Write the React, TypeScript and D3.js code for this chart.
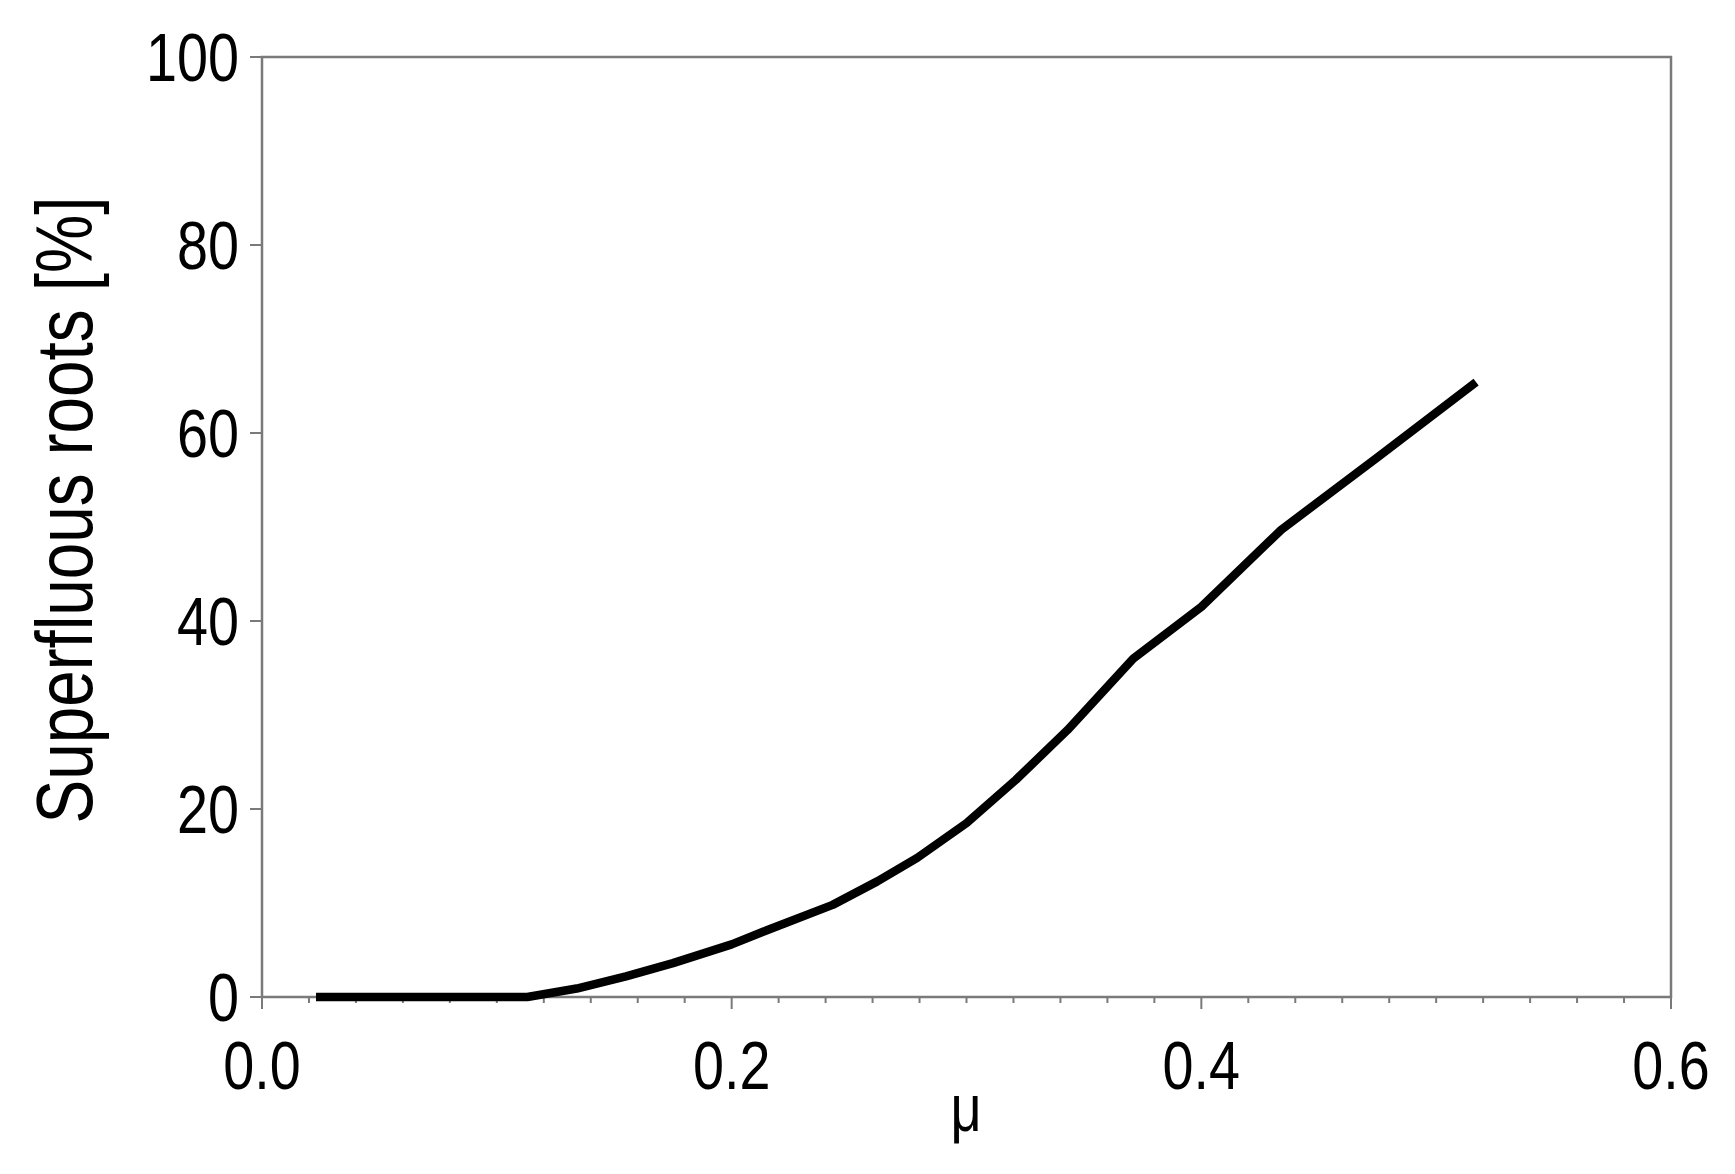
import React from "react";
import * as d3 from "d3";

const muValues = [0.023, 0.113, 0.134, 0.155, 0.175, 0.2, 0.215, 0.243, 0.262, 0.279, 0.3, 0.321, 0.343, 0.371, 0.4, 0.434, 0.475, 0.517];
const rootsValues = [0, 0, 0.9, 2.2, 3.6, 5.6, 7.1, 9.8, 12.3, 14.8, 18.5, 23.1, 28.4, 36.0, 41.5, 49.7, 57.4, 65.4];
const xTickValues = [0, 0.2, 0.4, 0.6];
const xTickLabels = ["0.0", "0.2", "0.4", "0.6"];
const yTickValues = [0, 20, 40, 60, 80, 100];
const yTickLabels = ["0", "20", "40", "60", "80", "100"];
const xLabel = "μ";
const yLabel = "Superfluous roots [%]";

const W = 1735;
const H = 1174;
const L = 262, R = 1671, T = 57, B = 997;
const FONT = "'Liberation Sans', Arial, sans-serif";
const AXIS = "#7a7a7a";
const SX = 0.82;

export default function App() {
  const x = d3.scaleLinear().domain([0, 0.6]).range([L, R]);
  const y = d3.scaleLinear().domain([0, 100]).range([B, T]);
  const pts = muValues.map((m, i) => [m, rootsValues[i]] as [number, number]);
  const line = d3.line<[number, number]>().x(d => x(d[0])).y(d => y(d[1]));
  const minor = d3.range(0, 31).map(i => i * 0.02);

  return (
    <svg width={W} height={H} style={{ position: "absolute", left: 0, top: 0, background: "#fff" }}>
      <rect x={0} y={0} width={W} height={H} fill="#fff" />
      {/* frame */}
      <rect x={L} y={T} width={R - L} height={B - T} fill="none" stroke={AXIS} strokeWidth={2.5} />
      {/* x ticks */}
      {minor.map((v, i) => (
        <line key={"m" + i} x1={x(v)} x2={x(v)} y1={B} y2={B + (i % 10 === 0 ? 12 : 6)} stroke={AXIS} strokeWidth={2} />
      ))}
      {xTickValues.map((v, i) => (
        <text key={"xt" + i} transform={`translate(${x(v)},1089) scale(${SX},1)`} textAnchor="middle" fontFamily={FONT} fontSize={68} fill="#000">
          {xTickLabels[i]}
        </text>
      ))}
      {/* y ticks */}
      {yTickValues.map((v, i) => (
        <g key={"yt" + i}>
          <line x1={L - 12} x2={L} y1={y(v)} y2={y(v)} stroke={AXIS} strokeWidth={2} />
          <text transform={`translate(239,${y(v)}) scale(${SX},1)`} dy="0.36em" textAnchor="end" fontFamily={FONT} fontSize={68} fill="#000">
            {yTickLabels[i]}
          </text>
        </g>
      ))}
      {/* data line */}
      <path d={line(pts) || ""} fill="none" stroke="#000" strokeWidth={8.5} strokeLinejoin="round" strokeLinecap="butt" />
      {/* labels */}
      <text transform={`translate(966,1131) scale(${SX},1)`} textAnchor="middle" fontFamily={FONT} fontSize={66} fill="#000">{xLabel}</text>
      <text transform={`translate(92,510) rotate(-90) scale(${SX},1)`} textAnchor="middle" fontFamily={FONT} fontSize={80} fill="#000">{yLabel}</text>
    </svg>
  );
}
